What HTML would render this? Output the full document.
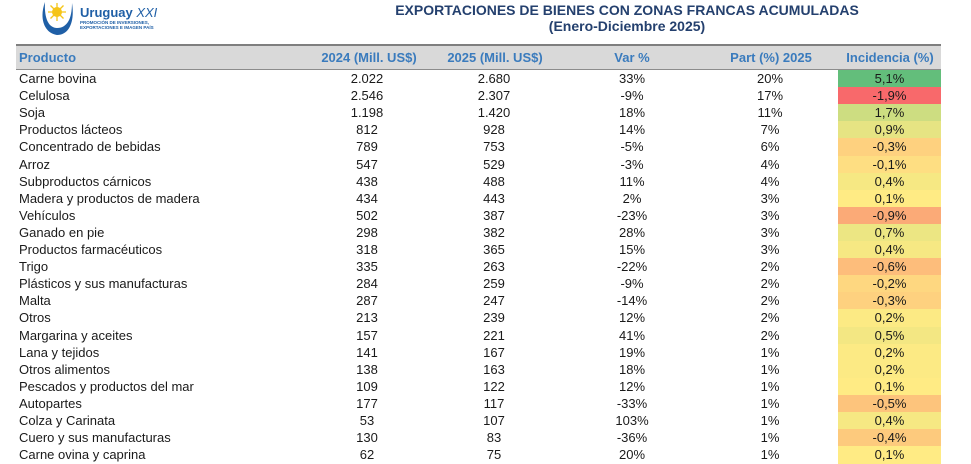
<!DOCTYPE html>
<html><head><meta charset="utf-8"><style>
*{margin:0;padding:0;box-sizing:border-box}
body{width:971px;height:463px;background:#fff;position:relative;overflow:hidden;font-family:"Liberation Sans",sans-serif;color:#1a1a1a}
.t{position:absolute;text-align:center;font-weight:bold;color:#24406e;font-size:14px;white-space:nowrap}
.hd{position:absolute;left:16px;top:44px;width:925px;height:26px;background:#d9d9d9;border-top:2px solid #7f7f7f;border-bottom:1px solid #8c8c8c}
.h{position:absolute;top:45px;height:25px;line-height:26px;font-weight:bold;color:#3a7bbd;font-size:13px;white-space:nowrap;text-align:center}
.r{position:absolute;left:0;width:971px;height:17.1px;font-size:13px;line-height:17px}
.r div{position:absolute;top:0;height:17.1px;white-space:nowrap;text-align:center}
.p{left:19px!important;text-align:left!important}
.a{left:317px;width:100px}
.b{left:444px;width:100px}
.c{left:582px;width:100px}
.d{left:720px;width:100px}
.r .e{left:838px;width:103px;height:18px}
</style></head><body>
<svg style="position:absolute;left:40px;top:0" width="36" height="38" viewBox="0 0 36 38">
<circle cx="17" cy="12" r="5" fill="#f5c518"/>
<g stroke="#f5c518" stroke-width="1.3">
<line x1="17" y1="3" x2="17" y2="21"/><line x1="8" y1="12" x2="26" y2="12"/>
<line x1="10.5" y1="5.5" x2="23.5" y2="18.5"/><line x1="23.5" y1="5.5" x2="10.5" y2="18.5"/>
</g>
<path d="M5 2 C-1 18 4 33 17 35 C29 35 35 22 32 3 C32 19 27 28 17 28 C9 28 4 19 5 2Z" fill="#1f5fa6"/>
</svg>
<div style="position:absolute;left:80px;top:5px;font-size:13px;font-weight:bold;color:#1f5fa6;white-space:nowrap">Uruguay <span style="font-weight:normal;font-style:italic">XXI</span></div>
<div style="position:absolute;left:80px;top:20px;font-size:4.5px;line-height:5px;font-weight:bold;color:#1f5fa6;white-space:nowrap">PROMOCIÓN DE INVERSIONES,<br>EXPORTACIONES E IMAGEN PAÍS</div>
<div class="t" style="top:2px;left:-345px;width:1944px;">EXPORTACIONES DE BIENES CON ZONAS FRANCAS ACUMULADAS</div>
<div class="t" style="top:18px;left:-345px;width:1944px;">(Enero-Diciembre 2025)</div>
<div class="hd"></div>
<div class="h" style="left:19px">Producto</div>
<div class="h" style="left:309px;width:120px">2024 (Mill. US$)</div>
<div class="h" style="left:435px;width:120px">2025 (Mill. US$)</div>
<div class="h" style="left:582px;width:100px">Var %</div>
<div class="h" style="left:711px;width:120px">Part (%) 2025</div>
<div class="h" style="left:830px;width:120px">Incidencia (%)</div>

<div class="r" style="top:70px"><div class="p">Carne bovina</div><div class="a">2.022</div><div class="b">2.680</div><div class="c">33%</div><div class="d">20%</div><div class="e" style="background:#63be7b">5,1%</div></div>
<div class="r" style="top:87.1px"><div class="p">Celulosa</div><div class="a">2.546</div><div class="b">2.307</div><div class="c">-9%</div><div class="d">17%</div><div class="e" style="background:#f8696b">-1,9%</div></div>
<div class="r" style="top:104.2px"><div class="p">Soja</div><div class="a">1.198</div><div class="b">1.420</div><div class="c">18%</div><div class="d">11%</div><div class="e" style="background:#cddd81">1,7%</div></div>
<div class="r" style="top:121.3px"><div class="p">Productos lácteos</div><div class="a">812</div><div class="b">928</div><div class="c">14%</div><div class="d">7%</div><div class="e" style="background:#e6e483">0,9%</div></div>
<div class="r" style="top:138.4px"><div class="p">Concentrado de bebidas</div><div class="a">789</div><div class="b">753</div><div class="c">-5%</div><div class="d">6%</div><div class="e" style="background:#fed17f">-0,3%</div></div>
<div class="r" style="top:155.5px"><div class="p">Arroz</div><div class="a">547</div><div class="b">529</div><div class="c">-3%</div><div class="d">4%</div><div class="e" style="background:#fede82">-0,1%</div></div>
<div class="r" style="top:172.6px"><div class="p">Subproductos cárnicos</div><div class="a">438</div><div class="b">488</div><div class="c">11%</div><div class="d">4%</div><div class="e" style="background:#f6e883">0,4%</div></div>
<div class="r" style="top:189.7px"><div class="p">Madera y productos de madera</div><div class="a">434</div><div class="b">443</div><div class="c">2%</div><div class="d">3%</div><div class="e" style="background:#ffeb84">0,1%</div></div>
<div class="r" style="top:206.8px"><div class="p">Vehículos</div><div class="a">502</div><div class="b">387</div><div class="c">-23%</div><div class="d">3%</div><div class="e" style="background:#fbaa77">-0,9%</div></div>
<div class="r" style="top:223.9px"><div class="p">Ganado en pie</div><div class="a">298</div><div class="b">382</div><div class="c">28%</div><div class="d">3%</div><div class="e" style="background:#ece683">0,7%</div></div>
<div class="r" style="top:241px"><div class="p">Productos farmacéuticos</div><div class="a">318</div><div class="b">365</div><div class="c">15%</div><div class="d">3%</div><div class="e" style="background:#f6e883">0,4%</div></div>
<div class="r" style="top:258.1px"><div class="p">Trigo</div><div class="a">335</div><div class="b">263</div><div class="c">-22%</div><div class="d">2%</div><div class="e" style="background:#fdbd7b">-0,6%</div></div>
<div class="r" style="top:275.2px"><div class="p">Plásticos y sus manufacturas</div><div class="a">284</div><div class="b">259</div><div class="c">-9%</div><div class="d">2%</div><div class="e" style="background:#fed780">-0,2%</div></div>
<div class="r" style="top:292.3px"><div class="p">Malta</div><div class="a">287</div><div class="b">247</div><div class="c">-14%</div><div class="d">2%</div><div class="e" style="background:#fed17f">-0,3%</div></div>
<div class="r" style="top:309.4px"><div class="p">Otros</div><div class="a">213</div><div class="b">239</div><div class="c">12%</div><div class="d">2%</div><div class="e" style="background:#fcea84">0,2%</div></div>
<div class="r" style="top:326.5px"><div class="p">Margarina y aceites</div><div class="a">157</div><div class="b">221</div><div class="c">41%</div><div class="d">2%</div><div class="e" style="background:#f3e783">0,5%</div></div>
<div class="r" style="top:343.6px"><div class="p">Lana y tejidos</div><div class="a">141</div><div class="b">167</div><div class="c">19%</div><div class="d">1%</div><div class="e" style="background:#fcea84">0,2%</div></div>
<div class="r" style="top:360.7px"><div class="p">Otros alimentos</div><div class="a">138</div><div class="b">163</div><div class="c">18%</div><div class="d">1%</div><div class="e" style="background:#fcea84">0,2%</div></div>
<div class="r" style="top:377.8px"><div class="p">Pescados y productos del mar</div><div class="a">109</div><div class="b">122</div><div class="c">12%</div><div class="d">1%</div><div class="e" style="background:#ffeb84">0,1%</div></div>
<div class="r" style="top:394.9px"><div class="p">Autopartes</div><div class="a">177</div><div class="b">117</div><div class="c">-33%</div><div class="d">1%</div><div class="e" style="background:#fdc47c">-0,5%</div></div>
<div class="r" style="top:412px"><div class="p">Colza y Carinata</div><div class="a">53</div><div class="b">107</div><div class="c">103%</div><div class="d">1%</div><div class="e" style="background:#f6e883">0,4%</div></div>
<div class="r" style="top:429.1px"><div class="p">Cuero y sus manufacturas</div><div class="a">130</div><div class="b">83</div><div class="c">-36%</div><div class="d">1%</div><div class="e" style="background:#fdca7d">-0,4%</div></div>
<div class="r" style="top:446.2px"><div class="p">Carne ovina y caprina</div><div class="a">62</div><div class="b">75</div><div class="c">20%</div><div class="d">1%</div><div class="e" style="background:#ffeb84">0,1%</div></div>
</body></html>
